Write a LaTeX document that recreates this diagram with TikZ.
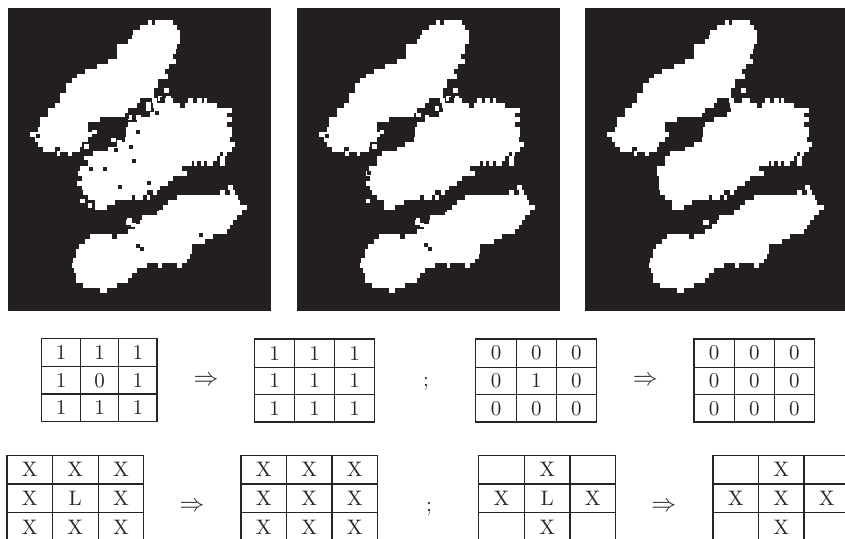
\documentclass[tikz,border=0pt]{standalone}
\definecolor{panelink}{HTML}{231F20}
\definecolor{tabink}{HTML}{262626}
\font\cellfont="[lmroman10-regular.otf]" at 21pt
\tikzset{
  panelbox/.style={fill=panelink,draw=none},
  tabline/.style={draw=tabink,line width=1.1pt},
  cellnum/.style={inner sep=0pt,text=tabink,font=\cellfont},
  sign/.style={inner sep=0pt,text=tabink,font=\fontsize{24}{24}\selectfont},
  semi/.style={inner sep=0pt,text=tabink,font=\cellfont}
}
% row spans of the white blobs, in 3x pixel units
\newcommand{\blobbase}{%
  \foreach \k/\a/\b in {
    0/443/455,0/465/520,1/420/530,2/400/540,3/395/540,4/385/540,5/352/530,6/352/528,7/352/518,
    8/325/528,9/290/508,10/255/495,11/232/505,12/215/475,13/198/475,14/198/462,14/492/508,
    15/180/462,16/180/420,16/455/470,16/495/520,16/565/580,16/590/605,16/612/622,
    17/165/410,17/460/540,17/555/650,18/145/385,18/462/695,19/145/375,19/450/680,
    20/120/300,20/410/695,21/120/265,21/385/680,22/115/265,22/378/695,23/90/275,23/378/695,
    24/105/265,24/375/690,25/115/245,25/350/705,26/130/165,26/180/240,26/325/695,
    27/170/180,27/205/215,27/280/660,27/670/680,28/265/650,28/660/675,29/265/575,29/582/592,29/602/612,29/622/640,29/660/675,
    30/240/545,31/240/560,32/245/520,33/245/505,34/245/480,34/685/700,
    35/250/440,35/458/470,35/660/675,35/690/705,36/265/395,36/405/430,36/440/450,36/530/715,
    37/285/345,37/505/720,38/285/320,38/490/740,39/470/725,40/425/710,
    41/378/395,41/420/700,42/405/690,43/385/680,44/270/335,44/350/640,45/255/615,
    46/238/575,47/228/575,48/228/570,49/218/560,50/215/440,50/475/485,50/530/545,
    51/222/410,52/228/395,53/228/385,54/250/350,55/300/320}{
    \fill[white] (\a,{60+14.6*\k}) rectangle (\b,{60+14.6*\k+15});
  }}
\newcommand{\whitedots}[1]{\foreach \x/\y in {#1}{\fill[white] (\x-7,\y-7) rectangle (\x+7,\y+7);}}
\newcommand{\darkdots}[1]{\foreach \x/\y in {#1}{\fill[panelink] (\x-6,\y-6) rectangle (\x+6,\y+6);}}
% table frame: name, x array, y array, cell entries col/row/text
\newcommand{\tablegrid}[4]{%
  \def\X{{#2}}\def\Y{{#3}}%
  \pgfmathsetmacro\xa{\X[0]}\pgfmathsetmacro\xb{\X[1]}\pgfmathsetmacro\xc{\X[2]}\pgfmathsetmacro\xd{\X[3]}%
  \pgfmathsetmacro\ya{\Y[0]}\pgfmathsetmacro\yb{\Y[1]}\pgfmathsetmacro\yc{\Y[2]}\pgfmathsetmacro\yd{\Y[3]}%
  \draw[tabline] (\xa,\ya) rectangle (\xd,\yd)
    (\xb,\ya) -- (\xb,\yd) (\xc,\ya) -- (\xc,\yd)
    (\xa,\yb) -- (\xd,\yb) (\xa,\yc) -- (\xd,\yc);
  \foreach \c/\r/\t in {#4}{
    \pgfmathtruncatemacro\cn{\c+1}
    \pgfmathtruncatemacro\rn{\r+1}
    \pgfmathsetmacro\pa{\X[\c]}
    \pgfmathsetmacro\pb{\X[\cn]}
    \pgfmathsetmacro\qa{\Y[\r]}
    \pgfmathsetmacro\qb{\Y[\rn]}
    \pgfmathsetmacro\cx{(\pa+\pb)/2}
    \pgfmathsetmacro\cy{(\qa+\qb)/2}
    \node[cellnum] (#1\c\r) at (\cx,\cy) {\t};
  }}
\begin{document}
\begin{tikzpicture}[x=1pt,y=-1pt]
\useasboundingbox (0,0) rectangle (845,538);
\clip (0,0) rectangle (845,538);
% panel 1
\begin{scope}[x=0.33333pt,y=-0.33333pt]
  \fill[panelbox] (24,24) rectangle (813,933);
  \blobbase
  \whitedots{390/352,415/352,400/372,445/325,470/325,480/295,505/295,283/396,260/440,260/474,340/420,358/428,248/603,270/617,388/660,400/675,380/715,240/520,238/550,258/572,445/312}
  \darkdots{415/396,392/440,403/483,272/507,316/507,360/562,448/550,348/450,403/352,380/352,470/340,550/318,487/298,470/628,602/705,415/738,427/748,392/98,115/407,625/737}
\end{scope}
% panel 2
\begin{scope}[xshift=288.5pt,x=0.33333pt,y=-0.33333pt]
  \fill[panelbox] (24,24) rectangle (813,933);
  \blobbase
  \whitedots{390/345,415/352,445/325,470/325,480/295,505/295,280/396,258/440,238/603,240/520,238/550,258/572,388/660,400/675,380/715}
  \darkdots{487/298,470/630,413/735,425/748,392/98,115/407,240/520}
\end{scope}
% panel 3
\begin{scope}[xshift=577pt,x=0.33333pt,y=-0.33333pt]
  \fill[panelbox] (24,24) rectangle (813,933);
  \blobbase
\end{scope}
% tables, top row
\tablegrid{a}{41.7,80.3,118.7,157}{338.3,366.7,394,421.7}{0/0/1,1/0/1,2/0/1,0/1/1,1/1/0,2/1/1,0/2/1,1/2/1,2/2/1}
\tablegrid{b}{254.3,294.7,334.7,374.7}{339,367.3,394.7,422}{0/0/1,1/0/1,2/0/1,0/1/1,1/1/1,2/1/1,0/2/1,1/2/1,2/2/1}
\tablegrid{c}{475.7,516.3,556.3,596.3}{339,367.3,394.7,422}{0/0/0,1/0/0,2/0/0,0/1/0,1/1/1,2/1/0,0/2/0,1/2/0,2/2/0}
\tablegrid{d}{694,734.3,774.3,814.3}{339,367.3,394.7,422}{0/0/0,1/0/0,2/0/0,0/1/0,1/1/0,2/1/0,0/2/0,1/2/0,2/2/0}
% tables, bottom row (cut by the page)
\tablegrid{e}{7,52.3,98.3,143.7}{455.3,484,512.7,541.5}{0/0/X,1/0/X,2/0/X,0/1/X,1/1/L,2/1/X,0/2/X,1/2/X,2/2/X}
\tablegrid{f}{241,286.3,332,377.7}{455.3,484,512.7,541.5}{0/0/X,1/0/X,2/0/X,0/1/X,1/1/X,2/1/X,0/2/X,1/2/X,2/2/X}
\tablegrid{g}{478.7,524.3,570,615.3}{455.3,484,512.7,541.5}{1/0/X,0/1/X,1/1/L,2/1/X,1/2/X}
\tablegrid{h}{713,758.7,804,849.6}{455.3,484,512.7,541.5}{1/0/X,0/1/X,1/1/X,2/1/X,1/2/X}
% signs
\node[sign] (ar1) at (206,381) {$\Rightarrow$};
\node[sign] (ar2) at (645.3,381) {$\Rightarrow$};
\node[sign] (ar3) at (192,506.7) {$\Rightarrow$};
\node[sign] (ar4) at (663.7,506.7) {$\Rightarrow$};
\node[semi] (sc1) at (426,384) {;};
\node[semi] (sc2) at (429,509) {;};
\end{tikzpicture}
\end{document}
